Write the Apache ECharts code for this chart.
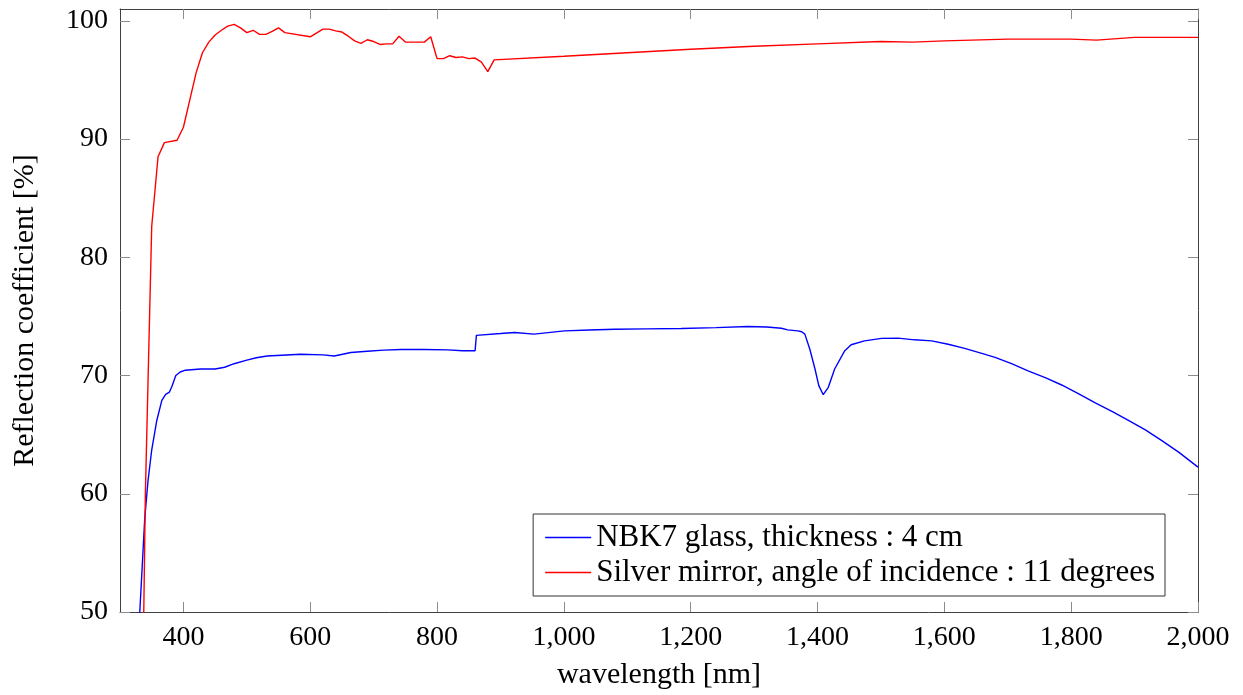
<!DOCTYPE html>
<html>
<head>
<meta charset="utf-8">
<title>Reflection coefficient</title>
<script src="https://cdn.jsdelivr.net/npm/echarts@6/dist/echarts.min.js"></script>
<style>
  html, body { margin: 0; padding: 0; background: #fff; }
  #chart { width: 1243px; height: 695px; }
</style>
</head>
<body>
<div id="chart"></div>
<script>
// NBK7 glass, thickness 4 cm
const glassWl = [330, 335, 339, 344, 350, 358, 366, 372, 378, 382, 388, 395, 403, 427, 450, 465, 480, 500, 515, 532, 585, 620, 638, 664, 690, 716, 743, 780, 817, 840, 860,
  862, 864, 900, 922, 953, 1001, 1040, 1080, 1130, 1185, 1240, 1290, 1320, 1343, 1353, 1369, 1375, 1380, 1388, 1396, 1402, 1409, 1417, 1427, 1443, 1453, 1474,
  1501, 1527, 1553, 1580, 1606, 1632, 1659, 1680, 1706, 1732, 1760, 1785, 1812, 1838, 1865, 1891, 1917, 1943, 1970, 2000];
const glassR = [48.8, 53.8, 57.9, 61.0, 63.7, 66.2, 67.9, 68.4, 68.6, 69.1, 70.0, 70.3, 70.45, 70.55, 70.55, 70.7, 71.0, 71.3, 71.5, 71.65, 71.8, 71.75, 71.65, 71.95, 72.05, 72.15, 72.2, 72.2, 72.17, 72.1, 72.1,
  73.4, 73.5, 73.55, 73.64, 73.5, 73.78, 73.85, 73.92, 73.95, 73.98, 74.05, 74.15, 74.1, 74.0, 73.86, 73.78, 73.7, 73.5, 72.2, 70.55, 69.15, 68.38, 69.0, 70.55, 72.1, 72.6, 72.93,
  73.14, 73.16, 73.02, 72.93, 72.65, 72.3, 71.87, 71.53, 71.0, 70.4, 69.8, 69.2, 68.45, 67.68, 66.95, 66.19, 65.4, 64.5, 63.5, 62.25];

// Silver mirror, angle of incidence 11 degrees
const mirrorWl = [335, 340, 350, 360, 370, 390, 400, 410, 420, 430, 440, 450, 460, 470, 480, 490, 500, 510, 520, 530, 540, 550, 560, 600, 620, 630, 640, 650, 660, 670, 680, 690, 700,
  710, 720, 730, 740, 750, 760, 780, 790, 800, 810, 820, 830, 840, 850, 860, 870, 880, 890, 1000, 1100, 1200, 1300, 1400, 1500, 1550, 1600, 1700, 1800, 1840, 1900, 2000];
const mirrorR = [40, 60, 82.6, 88.5, 89.7, 89.9, 91.0, 93.3, 95.6, 97.3, 98.2, 98.8, 99.2, 99.55, 99.7, 99.4, 99.0, 99.2, 98.85, 98.85, 99.1, 99.4, 99.0, 98.65, 99.3, 99.3, 99.15, 99.05, 98.7, 98.3, 98.1, 98.4, 98.25,
  98.0, 98.05, 98.05, 98.7, 98.2, 98.2, 98.2, 98.65, 96.8, 96.8, 97.05, 96.9, 96.95, 96.8, 96.85, 96.5, 95.7, 96.7, 97.0, 97.3, 97.6, 97.85, 98.05, 98.25, 98.2, 98.3, 98.45, 98.45, 98.37, 98.6, 98.6];

const xTicks = [400, 600, 800, 1000, 1200, 1400, 1600, 1800, 2000];
const yTicks = [50, 60, 70, 80, 90, 100];

const font = 'Liberation Serif';
const glassName = 'NBK7 glass, thickness : 4 cm';
const mirrorName = 'Silver mirror, angle of incidence : 11 degrees';

function zip(a, b) {
  return a.map((v, i) => [v, b[i]]);
}

const chart = echarts.init(document.getElementById('chart'));

const tickStyle = { show: true, inside: true, length: 10, lineStyle: { color: '#8c8c8c', width: 1 } };
const lineAxis = { show: true, onZero: false, lineStyle: { color: '#404040', width: 1 } };

const option = {
  animation: false,
  grid: { left: 120, right: 45, top: 9, bottom: 81 },
  legend: {
    orient: 'vertical',
    right: 78,
    bottom: 99,
    padding: [6, 10, 6, 12],
    itemGap: 0,
    itemWidth: 46,
    itemHeight: 1.5,
    borderColor: '#333',
    borderWidth: 1,
    backgroundColor: '#fff',
    textStyle: { fontFamily: font, fontSize: 31, lineHeight: 35, color: '#000' },
    data: [
      { name: glassName, icon: 'rect', itemStyle: { color: '#0000ff' } },
      { name: mirrorName, icon: 'rect', itemStyle: { color: '#ff0000' } }
    ]
  },
  xAxis: [
    {
      type: 'value',
      min: 300,
      max: 2000,
      name: 'wavelength [nm]',
      nameLocation: 'middle',
      nameGap: 48,
      nameTextStyle: { fontFamily: font, fontSize: 30, color: '#000' },
      axisLine: lineAxis,
      axisTick: Object.assign({ customValues: xTicks }, tickStyle),
      axisLabel: {
        customValues: xTicks,
        margin: 12,
        fontFamily: font,
        fontSize: 28,
        color: '#000',
        formatter: v => v.toLocaleString('en-US')
      },
      splitLine: { show: false }
    },
    {
      type: 'value',
      position: 'top',
      min: 300,
      max: 2000,
      axisLine: lineAxis,
      axisTick: Object.assign({ customValues: xTicks }, tickStyle),
      axisLabel: { show: false },
      splitLine: { show: false }
    }
  ],
  yAxis: [
    {
      type: 'value',
      min: 50,
      max: 101,
      name: 'Reflection coefficient [%]',
      nameLocation: 'middle',
      nameGap: 80,
      nameTextStyle: { fontFamily: font, fontSize: 30, color: '#000' },
      axisLine: lineAxis,
      axisTick: Object.assign({ customValues: yTicks }, tickStyle),
      axisLabel: { customValues: yTicks, margin: 12, fontFamily: font, fontSize: 28, color: '#000' },
      splitLine: { show: false }
    },
    {
      type: 'value',
      position: 'right',
      min: 50,
      max: 101,
      axisLine: lineAxis,
      axisTick: Object.assign({ customValues: yTicks }, tickStyle),
      axisLabel: { show: false },
      splitLine: { show: false }
    }
  ],
  series: [
    {
      name: glassName,
      type: 'line',
      data: zip(glassWl, glassR),
      symbol: 'none',
      color: '#0000ff',
      lineStyle: { color: '#0000ff', width: 1.4 },
      clip: true
    },
    {
      name: mirrorName,
      type: 'line',
      data: zip(mirrorWl, mirrorR),
      symbol: 'none',
      color: '#ff0000',
      lineStyle: { color: '#ff0000', width: 1.4 },
      clip: true
    }
  ]
};

chart.setOption(option);
</script>
</body>
</html>
